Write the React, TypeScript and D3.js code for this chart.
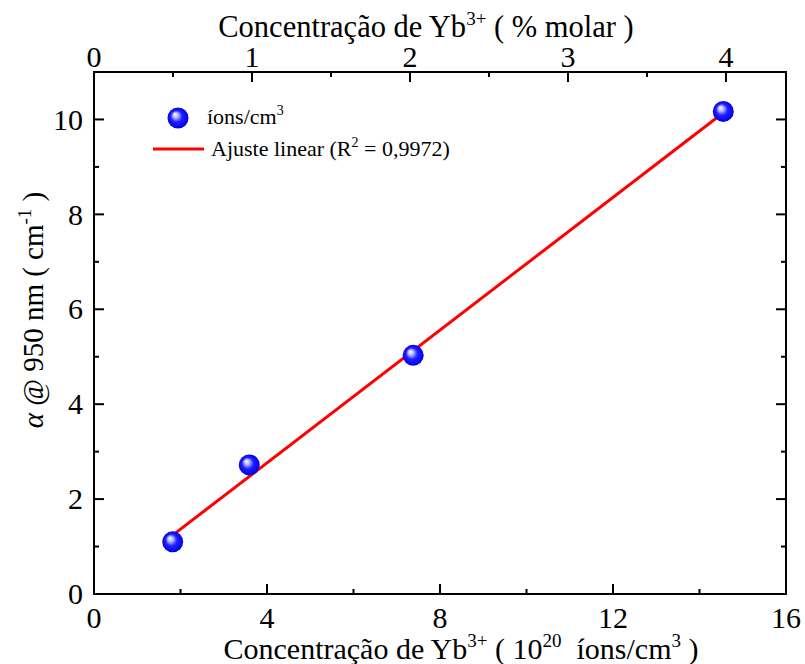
import React from 'react';
import * as d3 from 'd3';

// measured values
const concIons = [1.82, 3.59, 7.38, 14.55];
const alpha = [1.1, 2.72, 5.03, 10.17];
// linear fit drawn between first and last point
const fitX = [1.82, 14.55];
const fitY = [1.24, 10.14];

const bottomTicks = [0, 4, 8, 12, 16];
const bottomMinor = [2, 6, 10, 14];
const leftTicks = [0, 2, 4, 6, 8, 10];
const leftMinor = [1, 3, 5, 7, 9];
const topTicks = [0, 1, 2, 3, 4];
const topMinor = [0.5, 1.5, 2.5, 3.5];

const W = 805;
const H = 664;
const margin = { top: 72, right: 19, bottom: 70, left: 94 };
const FONT = 'Liberation Serif';

const width = W - margin.left - margin.right;
const height = H - margin.top - margin.bottom;

const x = d3.scaleLinear().domain([0, 16]).range([0, width]);
const xTop = d3.scaleLinear().domain([0, 4.38]).range([0, width]);
const y = d3.scaleLinear().domain([0, 11]).range([height, 0]);

const fitLine = d3.line<number>()
    .x(d => x(d))
    .y((d, i) => y(fitY[i]));

const tickStroke = { stroke: '#000', strokeWidth: 2 };
const labelStyle = { fontFamily: FONT, fontSize: '30px' };
const sup = { fontSize: '19px' };

function Ball({ cx, cy }: { cx: number; cy: number }) {
    return <circle cx={cx} cy={cy} r={10.5} fill="url(#ball)" />;
}

export default function App() {
    return (
        <svg width={W} height={H}
            style={{ position: 'absolute', left: 0, top: 0, background: '#fff' }}>
            <defs>
                <radialGradient id="ball" cx="50%" cy="50%" r="50%" fx="35%" fy="32%">
                    <stop offset="0%" stopColor="#ffffff" />
                    <stop offset="25%" stopColor="#b8b8ff" />
                    <stop offset="55%" stopColor="#2020ff" />
                    <stop offset="100%" stopColor="#0000e8" />
                </radialGradient>
            </defs>
            <g transform={`translate(${margin.left},${margin.top})`}>
                {/* bottom + top ticks */}
                {bottomTicks.map(t => (
                    <g key={'b' + t}>
                        <line x1={x(t)} x2={x(t)} y1={height} y2={height - 10} {...tickStroke} />
                        <text x={x(t)} y={height + 34} textAnchor="middle" style={labelStyle}>{t}</text>
                    </g>
                ))}
                {bottomMinor.map(t => (
                    <line key={'bm' + t} x1={x(t)} x2={x(t)} y1={height} y2={height - 5} {...tickStroke} />
                ))}
                {topTicks.map(t => (
                    <g key={'t' + t}>
                        <line x1={xTop(t)} x2={xTop(t)} y1={0} y2={10} {...tickStroke} />
                        <text x={xTop(t)} y={-5} textAnchor="middle" style={labelStyle}>{t}</text>
                    </g>
                ))}
                {topMinor.map(t => (
                    <line key={'tm' + t} x1={xTop(t)} x2={xTop(t)} y1={0} y2={5} {...tickStroke} />
                ))}
                {/* left + right ticks */}
                {leftTicks.map(t => (
                    <g key={'l' + t}>
                        <line x1={0} x2={10} y1={y(t)} y2={y(t)} {...tickStroke} />
                        <line x1={width} x2={width - 10} y1={y(t)} y2={y(t)} {...tickStroke} />
                        <text x={-11} y={y(t)} dy="0.34em" textAnchor="end" style={labelStyle}>{t}</text>
                    </g>
                ))}
                {leftMinor.map(t => (
                    <g key={'lm' + t}>
                        <line x1={0} x2={5} y1={y(t)} y2={y(t)} {...tickStroke} />
                        <line x1={width} x2={width - 5} y1={y(t)} y2={y(t)} {...tickStroke} />
                    </g>
                ))}
                <rect width={width} height={height} fill="none" stroke="#000" strokeWidth={2} />

                <path d={fitLine(fitX) || ''} fill="none" stroke="#ff0000" strokeWidth={3} />
                {concIons.map((c, i) => (
                    <Ball key={i} cx={x(c)} cy={y(alpha[i])} />
                ))}
            </g>

            {/* legend */}
            <g style={{ fontFamily: FONT, fontSize: '22px' }}>
                <Ball cx={178} cy={118} />
                <text x={207} y={124}>
                    íons/cm<tspan dy={-9} style={{ fontSize: '14px' }}>3</tspan>
                </text>
                <line x1={153} x2={204} y1={149} y2={149} stroke="#ff0000" strokeWidth={3} />
                <text x={211} y={156}>
                    Ajuste linear (R<tspan dy={-9} style={{ fontSize: '14px' }}>2</tspan>
                    <tspan dy={9}> = 0,9972)</tspan>
                </text>
            </g>

            {/* axis titles */}
            <g style={labelStyle}>
                <text x={461} y={659} textAnchor="middle">
                    Concentração de Yb<tspan dy={-12} style={sup}>3+</tspan>
                    <tspan dy={12}> ( 10</tspan>
                    <tspan dy={-12} style={sup}>20</tspan>
                    <tspan dy={12}>{'\u00a0 íons/cm'}</tspan>
                    <tspan dy={-12} style={sup}>3</tspan>
                    <tspan dy={12}> )</tspan>
                </text>
                <text x={426} y={37} textAnchor="middle" style={{ fontSize: '30.5px' }}>
                    Concentração de Yb<tspan dy={-12} style={sup}>3+</tspan>
                    <tspan dy={12}> ( % molar )</tspan>
                </text>
                <text transform="translate(43,310) rotate(-90)" textAnchor="middle" style={{ fontSize: '29px' }}>
                    <tspan style={{ fontStyle: 'italic' }}>α</tspan> @ 950 nm ( cm
                    <tspan dy={-12} style={sup}>-1</tspan>
                    <tspan dy={12}> )</tspan>
                </text>
            </g>
        </svg>
    );
}
